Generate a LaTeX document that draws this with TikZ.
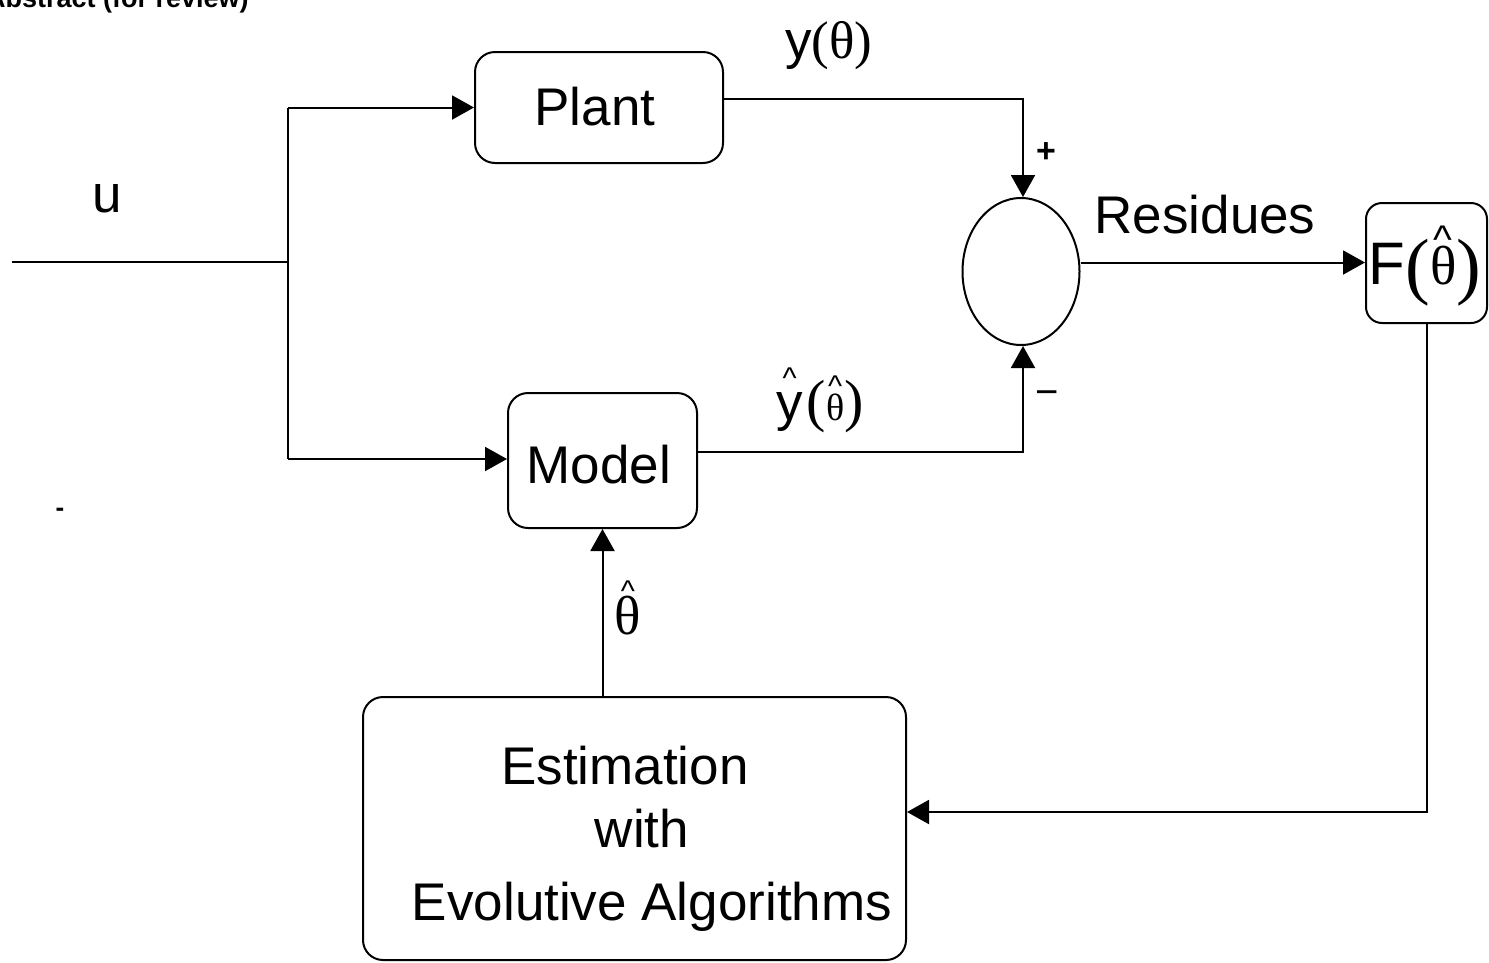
\documentclass[tikz,border=0pt]{standalone}
\usepackage{fontspec}
\usepackage{graphicx}
\setmainfont{Liberation Sans}
\newfontfamily\serif{Liberation Serif}
\usetikzlibrary{arrows.meta,shapes.geometric}
% caret stacked over a glyph: #1 caret size, #2 kern, #3 base
\newcommand\caretover[3]{\vbox{\offinterlineskip\halign{\hfil##\hfil\cr{\fontsize{#1}{#1}\selectfont\textasciicircum}\cr\noalign{\kern#2}#3\cr}}}
\tikzset{
  blk/.style={draw, line width=2pt, rounded corners=20pt, inner sep=0pt},
  ln/.style={line width=2pt},
  arr/.style={line width=2pt, -{Triangle[length=22pt,width=24pt]}},
  big/.style={font=\fontsize{53}{60}\selectfont},
  lbl/.style={inner sep=0pt}
}
\begin{document}
\begin{tikzpicture}[x=1pt,y=-1pt]
\useasboundingbox (0,0) rectangle (1489,962);
% header
\node[lbl, anchor=base west, font=\fontsize{27}{28}\selectfont\bfseries] (hdr) at (-14,7) {Abstract (for review)};
% blocks
\node[blk, minimum width=248pt, minimum height=111pt] (plant) at (599,107.5) {};
\node[big, lbl] (plantt) at (595,107) {Plant};
\node[blk, minimum width=189pt, minimum height=135pt] (model) at (602.5,460.5) {};
\node[big, lbl] (modelt) at (599,465) {Model};
\node[blk, minimum width=543pt, minimum height=263pt] (est) at (634.5,828.5) {};
\node[big, lbl] (e1) at (625,766) {Estimation};
\node[big, lbl] (e2) at (642,828) {with};
\node[big, lbl] (e3) at (652,907) {Evolutive Algorithms};
\node[blk, rounded corners=16pt, minimum width=121pt, minimum height=120pt] (F) at (1426.5,263) {};
\node[lbl, anchor=base] (Ft) at (1425,284) {\fontsize{60}{60}\selectfont F\raisebox{-6pt}{\serif\fontsize{74}{74}\selectfont(}\caretover{40}{-8pt}{\serif\fontsize{55}{55}\selectfont θ}\raisebox{-6pt}{\serif\fontsize{74}{74}\selectfont)}};
\node[draw, ellipse, line width=2pt, minimum width=117pt, minimum height=147pt, inner sep=0pt] (sum) at (1021,271.5) {};
% coordinates
\coordinate (in) at (12,262);
\coordinate (j) at (288,262);
\coordinate (jt) at (288,107.5);
\coordinate (jb) at (288,459);
% connectors
\draw[ln] (in) -- (j);
\draw[ln] (jt) -- (jb);
\draw[arr] (jt) -- (plant.west);
\draw[arr] (jb) -- (jb -| model.west);
\draw[arr] ([yshift=8.5pt]plant.east) -| ([xshift=2pt]sum.north);
\draw[arr] ([yshift=8.5pt]model.east) -| ([xshift=2pt]sum.south);
\draw[arr] ([yshift=9pt]sum.east) -- ([yshift=9pt]sum.east -| F.west);
\draw[arr] (F.south) |- ([yshift=16.5pt]est.east);
\draw[arr] (model.south |- est.north) -- (model.south);
% labels
\node[big, lbl] (u) at (107,199) {u};
\node[big, lbl, anchor=base] (res) at (1205,233) {Residues};
\node[lbl, anchor=base] (yth) at (829,58) {\fontsize{53}{53}\selectfont y\serif(θ)};
\node[lbl, anchor=base] (yhat) at (820,420) {\caretover{30}{4pt}{\fontsize{53}{53}\selectfont y}\kern4pt{\serif\fontsize{58}{58}\selectfont(}\caretover{30}{-3pt}{\serif\fontsize{38}{38}\selectfont θ}{\serif\fontsize{58}{58}\selectfont)}};
\node[lbl, anchor=base] (thhat) at (628,634) {\caretover{30}{-6pt}{\serif\fontsize{55}{55}\selectfont θ}};
\node[lbl, font=\fontsize{34}{34}\selectfont\bfseries] (plus) at (1046,153) {+};
\node[lbl, font=\fontsize{40}{40}\selectfont] (minus) at (1047,398) {\textminus};
\node[lbl, font=\fontsize{26}{26}\selectfont\bfseries] (dash) at (60,512) {-};
\end{tikzpicture}
\end{document}
